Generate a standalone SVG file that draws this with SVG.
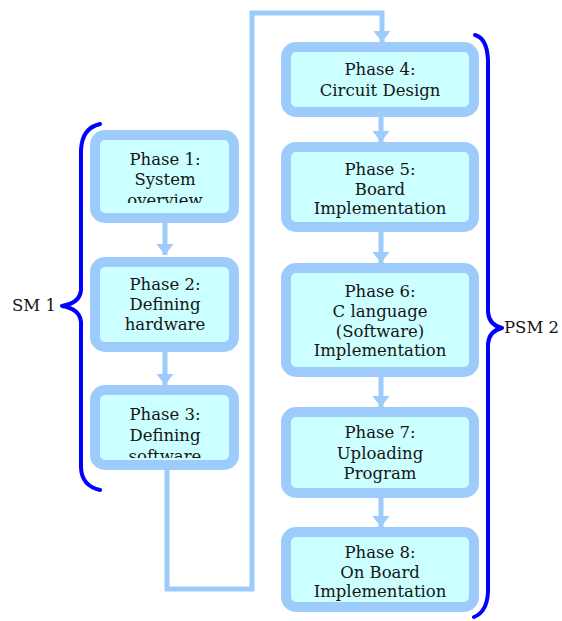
<svg xmlns="http://www.w3.org/2000/svg" width="562" height="621" viewBox="0 0 562 621">
<style>
.box{fill:#ccffff;stroke:#9dcbfb;stroke-width:10}
.t{font-family:"DejaVu Serif","Liberation Serif",serif;font-size:16.5px;fill:#151515;text-anchor:middle}
.lab{font-family:"DejaVu Serif","Liberation Serif",serif;font-size:16.5px;fill:#151515}
.c{fill:none;stroke:#9dcbfb;stroke-width:5}
.br{fill:none;stroke:#0000ff;stroke-width:4;stroke-linecap:round;stroke-linejoin:round}
</style>
<defs>
<marker id="ah" viewBox="0 0 11 17" refX="11" refY="8.5" markerWidth="11" markerHeight="17" markerUnits="userSpaceOnUse" orient="auto">
<path d="M0,0 L11,8.5 L0,17 Z" fill="#9dcbfb"/>
</marker>
<clipPath id="c1"><rect x="100" y="140" width="129" height="63"/></clipPath>
<clipPath id="c3"><rect x="100" y="395" width="129" height="63"/></clipPath>
</defs>
<g id="connectors">
<path class="c" d="M165,223 V255" marker-end="url(#ah)"/>
<path class="c" d="M165,352 V385" marker-end="url(#ah)"/>
<path class="c" d="M167,470 V589 H252 V13 H382 V42" marker-end="url(#ah)"/>
<path class="c" d="M381,117 V142" marker-end="url(#ah)"/>
<path class="c" d="M381,232 V263" marker-end="url(#ah)"/>
<path class="c" d="M381,377 V407" marker-end="url(#ah)"/>
<path class="c" d="M381,498 V527" marker-end="url(#ah)"/>
</g>
<g id="phase1"><rect class="box" x="95" y="135" width="139" height="83" rx="10"/>
<g clip-path="url(#c1)"><text class="t" x="165" y="165">Phase 1:</text><text class="t" x="165" y="185">System</text><text class="t" x="165" y="206">overview</text></g></g>
<g id="phase2"><rect class="box" x="95" y="262" width="139" height="85" rx="10"/>
<text class="t" x="165" y="290">Phase 2:</text><text class="t" x="165" y="310">Defining</text><text class="t" x="165" y="330">hardware</text></g>
<g id="phase3"><rect class="box" x="95" y="390" width="139" height="75" rx="10"/>
<g clip-path="url(#c3)"><text class="t" x="165" y="420">Phase 3:</text><text class="t" x="165" y="441">Defining</text><text class="t" x="165" y="462">software</text></g></g>
<g id="phase4"><rect class="box" x="286" y="47" width="188" height="65" rx="10"/>
<text class="t" x="380" y="75">Phase 4:</text><text class="t" x="380" y="96">Circuit Design</text></g>
<g id="phase5"><rect class="box" x="286" y="147" width="188" height="80" rx="10"/>
<text class="t" x="380" y="175">Phase 5:</text><text class="t" x="380" y="195">Board</text><text class="t" x="380" y="214">Implementation</text></g>
<g id="phase6"><rect class="box" x="286" y="268" width="188" height="104" rx="10"/>
<text class="t" x="380" y="297">Phase 6:</text><text class="t" x="380" y="317">C language</text><text class="t" x="380" y="337">(Software)</text><text class="t" x="380" y="356">Implementation</text></g>
<g id="phase7"><rect class="box" x="286" y="412" width="188" height="81" rx="10"/>
<text class="t" x="380" y="438">Phase 7:</text><text class="t" x="380" y="459">Uploading</text><text class="t" x="380" y="479">Program</text></g>
<g id="phase8"><rect class="box" x="286" y="532" width="188" height="75" rx="10"/>
<text class="t" x="380" y="558">Phase 8:</text><text class="t" x="380" y="578">On Board</text><text class="t" x="380" y="597">Implementation</text></g>
<g id="sm1">
<path class="br" d="M100,124 Q82,128 81,150 L81,290 Q80,303 62,306 Q80,309 81,322 L81,468 Q82,486 100,490"/>
<text class="lab" x="56" y="311" text-anchor="end">SM 1</text>
</g>
<g id="psm2">
<path class="br" d="M475,35 Q487,38 488,60 L488,312 Q489,325 502,328 Q489,331 488,344 L488,592 Q487,612 474,617"/>
<text class="lab" x="504" y="333">PSM 2</text>
</g>
</svg>
